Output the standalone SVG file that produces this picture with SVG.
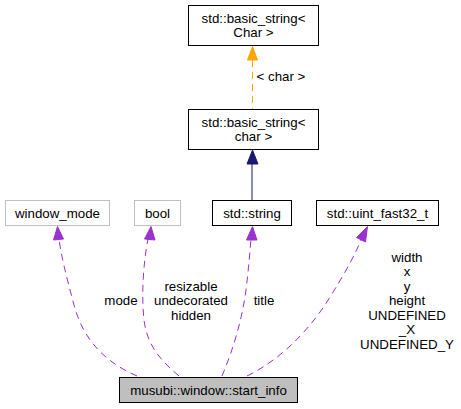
<svg xmlns="http://www.w3.org/2000/svg" width="461" height="409" viewBox="0 0 461 409">
<style>
text{font-family:"Liberation Sans",Arial,sans-serif;font-size:13.3px;fill:#000;text-anchor:middle}
.n{fill:#fff;stroke:#000;stroke-width:1}
.g{fill:#fff;stroke:#bfbfbf;stroke-width:1}
.m{fill:#bfbfbf;stroke:#000;stroke-width:1}
.e{fill:none;stroke:#9a32cd;stroke-width:1;stroke-dasharray:7,5}
.ea{fill:#9a32cd;stroke:#9a32cd}
</style>
<rect width="461" height="409" fill="#fff"/>
<g id="edges">
<path d="M252,164 V200" fill="none" stroke="#191970"/>
<polygon points="247,164 252.5,150 258,164" fill="#191970" stroke="#191970"/>
<path d="M252.5,60 V109" fill="none" stroke="#ffa500" stroke-dasharray="7,5"/>
<polygon points="247.5,60 252.5,46.5 257.5,60" fill="#ffa500" stroke="#ffa500"/>
<text x="281" y="81">&lt; char &gt;</text>
<path class="e" d="M137,376 C100,360 82,335 74,305 C66,275 61,255 59,239"/>
<polygon class="ea" points="53.5,240 57.5,226.5 63.5,239"/>
<text x="121" y="304.5">mode</text>
<path class="e" d="M179,376 C160,360 147,345 144,320 C141,290 144,260 148,239"/>
<polygon class="ea" points="144.5,239 151,226.5 155,240"/>
<text x="191" y="290.5">resizable</text>
<text x="191" y="305">undecorated</text>
<text x="191" y="319.5">hidden</text>
<path class="e" d="M222,376 C233,350 242,320 246,290 C249,265 250,250 251,239"/>
<polygon class="ea" points="246.5,240 252.5,226.5 257,240"/>
<text x="264" y="304.5">title</text>
<path class="e" d="M247,376 C280,360 310,330 330,297 C345,273 355,255 361,240"/>
<polygon class="ea" points="356.5,237.5 367.5,226.5 365.5,242"/>
<text x="407" y="261.5">width</text>
<text x="407" y="276">x</text>
<text x="407" y="290.5">y</text>
<text x="407" y="305">height</text>
<text x="407" y="319.5">UNDEFINED</text>
<text x="407" y="334">_X</text>
<text x="407" y="348.5">UNDEFINED_Y</text>
</g>
<g id="node_basic_string_Char">
<rect class="n" x="188.5" y="5.5" width="130" height="40"/>
<text x="253.5" y="23">std::basic_string&lt;</text>
<text x="253.5" y="37">Char &gt;</text>
</g>
<g id="node_basic_string_char">
<rect class="n" x="188.5" y="109.5" width="130" height="40"/>
<text x="253.5" y="127">std::basic_string&lt;</text>
<text x="253.5" y="141">char &gt;</text>
</g>
<g id="node_window_mode">
<rect class="g" x="5.5" y="200.5" width="104" height="25"/>
<text x="57.5" y="218">window_mode</text>
</g>
<g id="node_bool">
<rect class="g" x="134.5" y="200.5" width="46" height="25"/>
<text x="157.5" y="218">bool</text>
</g>
<g id="node_string">
<rect class="n" x="212.5" y="200.5" width="79" height="25"/>
<text x="252" y="218">std::string</text>
</g>
<g id="node_uint_fast32_t">
<rect class="n" x="316.5" y="200.5" width="122" height="25"/>
<text x="377.5" y="218">std::uint_fast32_t</text>
</g>
<g id="node_start_info">
<rect class="m" x="119.5" y="377.5" width="178" height="25"/>
<text x="208.5" y="394.5">musubi::window::start_info</text>
</g>
</svg>
